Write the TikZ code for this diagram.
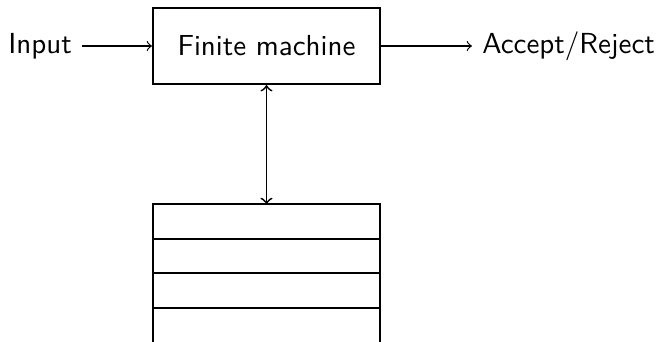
\documentclass[tikz,border=0pt]{standalone}
\begin{document}
\begin{tikzpicture}[x=0.345pt,y=-0.345pt,
  every node/.style={font=\sffamily},
  box/.style={draw,line width=0.7pt,minimum width=78.3pt,minimum height=26.2pt,inner sep=0pt},
  cell/.style={draw,line width=0.7pt,minimum width=78.3pt,minimum height=11.97pt,inner sep=0pt,outer sep=0pt},
  side/.style={line width=0.7pt},
  conn/.style={line width=0.4pt},
  vconn/.style={line width=0.6pt}]
\useasboundingbox (0,0) rectangle (658,341);
\node[box] (fm) at (266.5,46) {Finite machine};
\node[anchor=east] (in) at (82,46) {Input};
\node[anchor=west] (out) at (472,46) {Accept/Reject};
\node[cell] (c1) at (266.5,221.5) {};
\node[cell] (c2) at (266.5,256) {};
\node[cell] (c3) at (266.5,290.5) {};
\coordinate (c4l) at (c3.south west);
\coordinate (c4r) at (c3.south east);
\coordinate (bl) at (153.5,345);
\coordinate (br) at (379.5,345);
\draw[side] (c4l) -- (c4l |- bl);
\draw[side] (c4r) -- (c4r |- br);
\draw[conn,->] (in) -- (fm);
\draw[conn,->] (fm) -- (out);
\draw[vconn,<->] (fm) -- (c1);
\end{tikzpicture}
\end{document}
